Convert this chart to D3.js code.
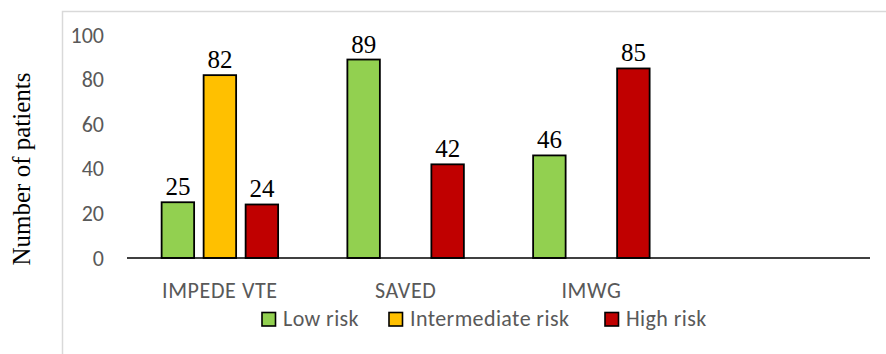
<!DOCTYPE html>
<html>
<head>
<meta charset="utf-8">
<script src="https://cdn.jsdelivr.net/npm/d3@7"></script>
<style>
  html, body { margin: 0; padding: 0; background: #fff; }
  svg { display: block; }
</style>
</head>
<body>
<svg id="chart" width="886" height="354"></svg>
<script>
// Risk-model groups (the last slot on the axis is left empty)
const categories = ["IMPEDE VTE", "SAVED", "IMWG", ""];
const seriesNames = ["Low risk", "Intermediate risk", "High risk"];
const lowRisk = [25, 89, 46, null];
const intermediateRisk = [82, null, null, null];
const highRisk = [24, 42, 85, null];
const yTicks = [0, 20, 40, 60, 80, 100];
const colors = ["#92d050", "#ffc000", "#c00000"];

const series = [lowRisk, intermediateRisk, highRisk];

const svg = d3.select("#chart");
const W = 886, H = 354;
const sansFont = "Carlito, Calibri, 'Open Sans', sans-serif";
const serifFont = "'Liberation Serif', 'Times New Roman', Times, serif";

// Chart frame (left and top edges)
svg.append("path")
  .attr("d", `M62.5,${H} V11.5 H${W}`)
  .attr("fill", "none")
  .attr("stroke", "#d9d9d9")
  .attr("stroke-width", 1.5);

const plot = { left: 127, right: 870, top: 35, bottom: 258 };

const x = d3.scaleBand()
  .domain(categories.map((c, i) => i))
  .range([plot.left, plot.right]);

const y = d3.scaleLinear()
  .domain([0, 100])
  .range([plot.bottom, plot.top]);

const barW = 32.5, step = 42;

// Y tick labels
const yAxis = d3.axisLeft(y).tickValues(yTicks).tickSize(0).tickPadding(0);
const gy = svg.append("g").attr("transform", `translate(104,0)`).call(yAxis);
gy.select(".domain").remove();
gy.selectAll("text")
  .attr("font-family", sansFont)
  .attr("font-size", 22)
  .attr("fill", "#595959");

// Bars with value labels
series.forEach((vals, s) => {
  const g = svg.append("g");
  vals.forEach((v, i) => {
    if (v == null) return;
    const cx = x(i) + x.bandwidth() / 2 + (s - 1) * step;
    g.append("rect")
      .attr("x", cx - barW / 2)
      .attr("y", y(v))
      .attr("width", barW)
      .attr("height", y(0) - y(v))
      .attr("fill", colors[s])
      .attr("stroke", "#000")
      .attr("stroke-width", 1.8);
    svg.append("text")
      .attr("x", cx)
      .attr("y", y(v) - 7)
      .attr("text-anchor", "middle")
      .attr("font-family", serifFont)
      .attr("font-size", 25)
      .attr("fill", "#000")
      .text(v);
  });
});

// Baseline
svg.append("line")
  .attr("x1", plot.left).attr("x2", plot.right)
  .attr("y1", y(0)).attr("y2", y(0))
  .attr("stroke", "#000")
  .attr("stroke-width", 1.6);

// Category labels
const xAxis = d3.axisBottom(x).tickFormat(i => categories[i]).tickSize(0).tickPadding(0);
const gx = svg.append("g").attr("transform", `translate(0,298)`).call(xAxis);
gx.select(".domain").remove();
gx.selectAll("text")
  .attr("y", 0)
  .attr("dy", 0)
  .attr("font-family", sansFont)
  .attr("font-size", 22)
  .attr("letter-spacing", 0.6)
  .attr("fill", "#595959");

// Y-axis title
svg.append("text")
  .attr("transform", "translate(30,169) rotate(-90)")
  .attr("text-anchor", "middle")
  .attr("font-family", serifFont)
  .attr("font-size", 25)
  .attr("fill", "#000")
  .text("Number of patients");

// Legend
const legendX = [262, 389, 605];
const lg = svg.append("g");
seriesNames.forEach((name, s) => {
  lg.append("rect")
    .attr("x", legendX[s])
    .attr("y", 312.5)
    .attr("width", 13.5)
    .attr("height", 13.5)
    .attr("fill", colors[s])
    .attr("stroke", "#000")
    .attr("stroke-width", 1.6);
  lg.append("text")
    .attr("x", legendX[s] + 21)
    .attr("y", 326)
    .attr("font-family", sansFont)
    .attr("font-size", 22)
    .attr("letter-spacing", 0.4)
    .attr("fill", "#595959")
    .text(name);
});
</script>
</body>
</html>
